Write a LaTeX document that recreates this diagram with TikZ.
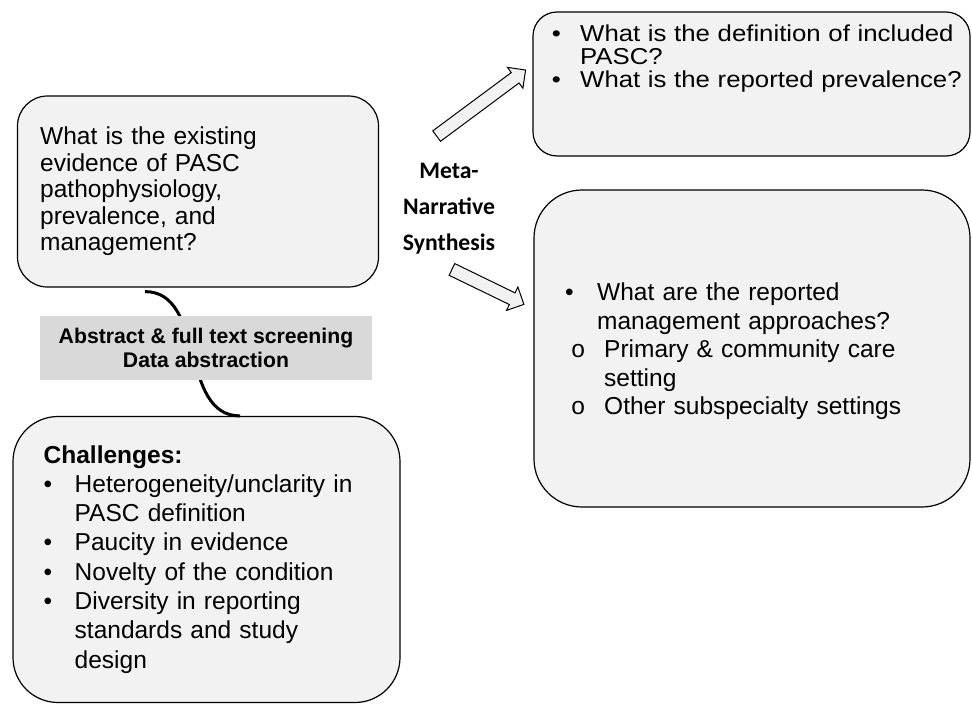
\documentclass[tikz,border=0pt]{standalone}
\usepackage{fontspec}
\setmainfont{Liberation Sans}
\newfontfamily\mycal{Carlito}
\newfontfamily\mymono{Liberation Mono}
\newfontfamily\widesans{Liberation Sans}[FakeStretch=1.12]
\usetikzlibrary{shapes.arrows,calc}
\definecolor{boxfill}{HTML}{F2F2F2}
\definecolor{bandfill}{HTML}{D9D9D9}
\newcommand\bul[1]{\makebox[#1][l]{\textbullet}}
\newcommand\subbul[2]{\hspace*{#1}\makebox[#2][l]{\mymono o}}
\begin{document}
\begin{tikzpicture}[x=1pt,y=-1pt,
  box/.style={draw=black, line width=1.2pt, fill=boxfill, inner sep=0pt},
  txt/.style={inner sep=0pt, anchor=base west, align=left, text width=420pt},
  band/.style={fill=bandfill, inner sep=0pt, minimum width=332pt, minimum height=64pt,
    align=center, font=\bfseries\fontsize{21.2}{24}\selectfont},
  blockarrow/.style={single arrow, draw=black, line width=1pt, fill=boxfill,
    inner xsep=0pt, inner ysep=6pt, single arrow head extend=6.5pt,
    single arrow tip angle=90},
  link/.style={line width=3pt}
]
\useasboundingbox (0,0) rectangle (972,704);

% boxes
\node[box, rounded corners=30pt, minimum width=361pt, minimum height=191pt] (boxA) at (198,191.5) {};
\node[box, rounded corners=24pt, minimum width=437pt, minimum height=144pt] (boxB) at (751.5,84) {};
\node[box, rounded corners=48pt, minimum width=436pt, minimum height=317pt] (boxC) at (752,348.5) {};
\node[box, rounded corners=45pt, minimum width=387pt, minimum height=286pt] (boxD) at (206.5,559.5) {};

% connector behind the band
\draw[link] ($(boxA.south)+(-53,4)$) to[out=0,in=180] ($(boxD.north)+(33.5,0)$);
\node[band] (band) at (206,348) {Abstract \& full text screening\\Data abstraction};

% block arrows
\node[blockarrow, minimum height=110.8pt, rotate=36.6] (arrUp) at (478.5,105) {};
\node[blockarrow, minimum height=80pt, rotate=-25.9] (arrDn) at (485,285.5) {};

% meta-narrative label
\node[inner sep=0pt, anchor=base, align=center, text width=120pt,
  font=\mycal\bfseries\fontsize{23.7}{36}\selectfont] (meta) at (449,178)
  {Meta-\\Narrative\\Synthesis};

% box texts
\node[txt, font=\fontsize{24.5}{26.5}\selectfont] (tA) at (40,144.5)
  {What is the existing\\evidence of PASC\\pathophysiology,\\prevalence, and\\management?};

\node[txt, font=\widesans\fontsize{23}{23.2}\selectfont] (tB) at (551.7,41.5)
  {\bul{28.3pt}What is the definition of included\\
   \hspace*{28.3pt}PASC?\\
   \bul{28.3pt}What is the reported prevalence?};

\node[txt, font=\fontsize{24.5}{28.5}\selectfont] (tC) at (565,300.5)
  {\bul{32pt}What are the reported\\
   \hspace*{32pt}management approaches?\\
   \subbul{5.6pt}{33.4pt}Primary \& community care\\
   \hspace*{39pt}setting\\
   \subbul{5.6pt}{33.4pt}Other subspecialty settings};

\node[txt, font=\fontsize{24.5}{29.3}\selectfont] (tD) at (43.5,463)
  {{\bfseries Challenges:}\\
   \bul{31pt}Heterogeneity/unclarity in\\
   \hspace*{31pt}PASC definition\\
   \bul{31pt}Paucity in evidence\\
   \bul{31pt}Novelty of the condition\\
   \bul{31pt}Diversity in reporting\\
   \hspace*{31pt}standards and study\\
   \hspace*{31pt}design};
\end{tikzpicture}
\end{document}
